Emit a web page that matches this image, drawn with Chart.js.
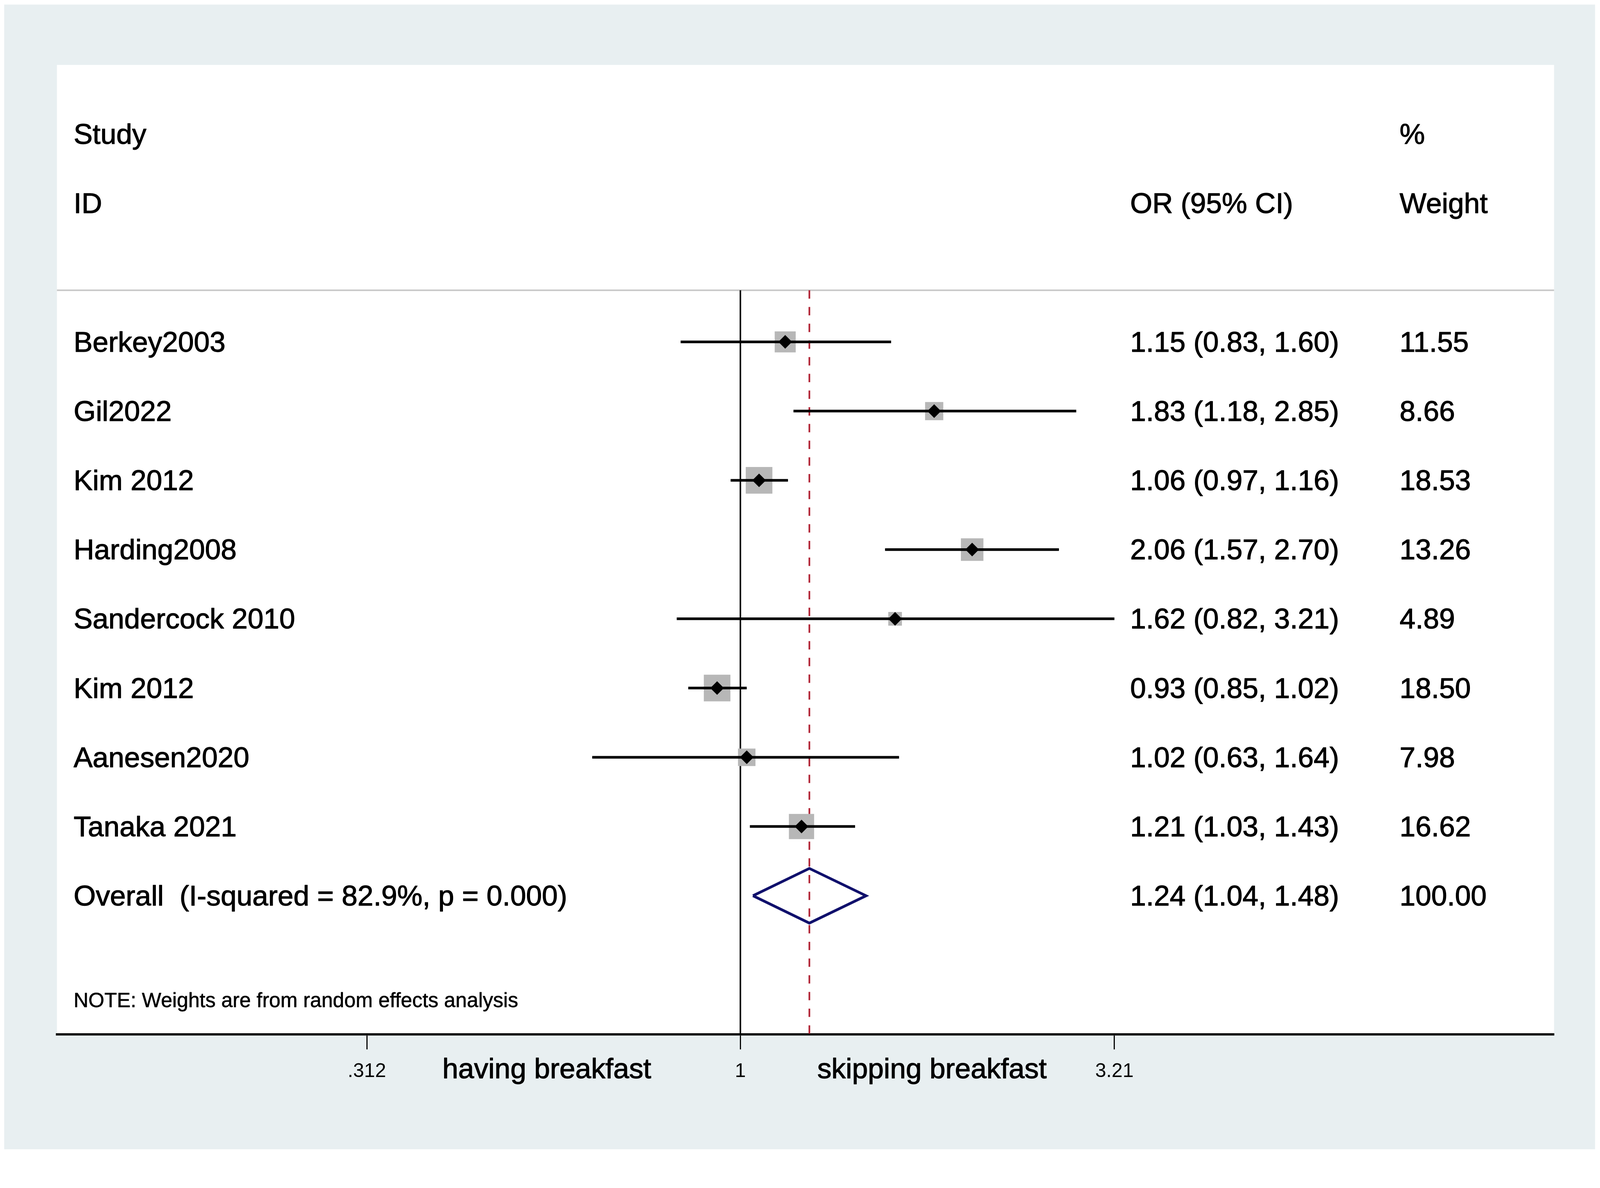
<!DOCTYPE html>
<html>
<head>
<meta charset="utf-8">
<title>Forest plot</title>
<script src="https://cdn.jsdelivr.net/npm/chart.js@4.4.1/dist/chart.umd.min.js"></script>
<style>
  html, body { margin: 0; padding: 0; background: #ffffff; overflow: hidden; }
  canvas { display: block; }
</style>
</head>
<body>
<canvas id="forest"></canvas>
<script>
// study data
const studies = ["Berkey2003", "Gil2022", "Kim 2012", "Harding2008", "Sandercock 2010", "Kim 2012", "Aanesen2020", "Tanaka 2021"];
const oddsRatio = [1.15, 1.83, 1.06, 2.06, 1.62, 0.93, 1.02, 1.21];
const lowerCI = [0.83, 1.18, 0.97, 1.57, 0.82, 0.85, 0.63, 1.03];
const upperCI = [1.60, 2.85, 1.16, 2.70, 3.21, 1.02, 1.64, 1.43];
const weights = [11.55, 8.66, 18.53, 13.26, 4.89, 18.50, 7.98, 16.62];

const overallLabel = "Overall  (I-squared = 82.9%, p = 0.000)";
const overallOR = 1.24;
const overallLower = 1.04;
const overallUpper = 1.48;
const overallWeight = 100.00;

const xTickValues = [0.312, 1, 3.21];
const xTickLabels = [".312", "1", "3.21"];
const favourLabels = ["having breakfast", "skipping breakfast"];
const noteText = "NOTE: Weights are from random effects analysis";

// rows on the y scale (Berkey = 1 ... Overall = 9)
const studyRows = studies.map((s, i) => i + 1);
const overallRow = studies.length + 1;
const headerLineRow = 0.255;
const noteRow = 10.5;

// the layout was measured on a 4216 x 3040 picture, scale it to the real viewport
const W = window.innerWidth;
const H = window.innerHeight;
const S = Math.min(W / 4216, H / 3040);
const px = v => v * S;

const FONT = '"Liberation Sans", Arial, Helvetica, sans-serif';
Chart.defaults.font.family = FONT;
Chart.defaults.color = "#000000";

const canvas = document.getElementById("forest");
canvas.width = W;
canvas.height = H;
canvas.style.width = W + "px";
canvas.style.height = H + "px";
let ctx = canvas.getContext("2d");

const datasets = [];

// grey weight boxes (area ~ weight)
datasets.push({
  data: studies.map((s, i) => ({ x: oddsRatio[i], y: studyRows[i] })),
  pointStyle: "rect",
  pointRadius: weights.map(w => px(16.3 * Math.sqrt(w) / Math.SQRT2)),
  backgroundColor: "#b7b7b7",
  borderWidth: 0,
  order: 5,
});

// confidence interval lines
studies.forEach((s, i) => {
  datasets.push({
    data: [{ x: lowerCI[i], y: studyRows[i] }, { x: upperCI[i], y: studyRows[i] }],
    showLine: true,
    borderColor: "#000000",
    borderWidth: px(7),
    pointRadius: 0,
    order: 4,
  });
});

// black point estimate markers
datasets.push({
  data: studies.map((s, i) => ({ x: oddsRatio[i], y: studyRows[i] })),
  pointStyle: "rectRot",
  pointRadius: px(18),
  backgroundColor: "#000000",
  borderWidth: 0,
  order: 1,
});

// null line at OR = 1
datasets.push({
  data: [{ x: 1, y: headerLineRow }, { x: 1, y: 11 }],
  showLine: true,
  borderColor: "#000000",
  borderWidth: px(4),
  pointRadius: 0,
  order: 6,
});

// dashed overall line
datasets.push({
  data: [{ x: overallOR, y: headerLineRow }, { x: overallOR, y: 11 }],
  showLine: true,
  borderColor: "#b3283a",
  borderWidth: px(4.5),
  borderDash: [px(22), px(22)],
  pointRadius: 0,
  order: 7,
});

// overall diamond
const dh = 0.395;
datasets.push({
  data: [
    { x: overallLower, y: overallRow },
    { x: overallOR, y: overallRow - dh },
    { x: overallUpper, y: overallRow },
    { x: overallOR, y: overallRow + dh },
    { x: overallLower, y: overallRow },
  ],
  showLine: true,
  borderColor: "#10106c",
  backgroundColor: "#ffffff",
  fill: false,
  borderWidth: px(7),
  borderJoinStyle: "miter",
  pointRadius: 0,
  order: 2,
});

function drawText(c, text, x, y) {
  c.strokeText(text, x, y);
  c.fillText(text, x, y);
}

const panelPlugin = {
  id: "panel",
  beforeDraw(chart) {
    const c = chart.ctx;
    const a = chart.chartArea;
    c.save();
    c.fillStyle = "#ffffff";
    c.fillRect(0, 0, chart.width, chart.height);
    c.fillStyle = "#e8eff1";
    c.fillRect(px(11), px(12), px(4192), px(3015));
    c.fillStyle = "#ffffff";
    c.fillRect(a.left, a.top, a.right - a.left, a.bottom - a.top);
    const y = chart.scales.y.getPixelForValue(headerLineRow);
    c.strokeStyle = "#c8c8c8";
    c.lineWidth = px(4);
    c.beginPath();
    c.moveTo(a.left, y);
    c.lineTo(a.right, y);
    c.stroke();
    c.restore();
  },
  afterDraw(chart) {
    const c = chart.ctx;
    const a = chart.chartArea;
    const ys = chart.scales.y;
    const xs = chart.scales.x;
    const col1 = px(194);
    const col2 = px(2978);
    const col3 = px(3688);
    const dy = px(5);
    const big = px(75) + "px " + FONT;
    const row = r => ys.getPixelForValue(r) + dy;
    c.save();
    c.fillStyle = "#000000";
    c.strokeStyle = "#000000";
    c.lineWidth = px(1.4);
    c.lineJoin = "round";
    c.textBaseline = "middle";
    c.textAlign = "left";
    c.font = big;
    drawText(c, "Study", col1, row(-2));
    drawText(c, "ID", col1, row(-1));
    drawText(c, "%", col3, row(-2));
    drawText(c, "Weight", col3, row(-1));
    drawText(c, "OR (95% CI)", col2, row(-1));
    studies.forEach((s, i) => {
      const y = row(studyRows[i]);
      drawText(c, s, col1, y);
      drawText(c, oddsRatio[i].toFixed(2) + " (" + lowerCI[i].toFixed(2) + ", " + upperCI[i].toFixed(2) + ")", col2, y);
      drawText(c, weights[i].toFixed(2), col3, y);
    });
    const yo = row(overallRow);
    drawText(c, overallLabel, col1, yo);
    drawText(c, overallOR.toFixed(2) + " (" + overallLower.toFixed(2) + ", " + overallUpper.toFixed(2) + ")", col2, yo);
    drawText(c, overallWeight.toFixed(2), col3, yo);
    c.font = px(54) + "px " + FONT;
    c.lineWidth = px(0.8);
    drawText(c, noteText, col1, row(noteRow));

    // favour labels between the ticks
    c.font = big;
    c.lineWidth = px(1.4);
    c.textAlign = "center";
    c.textBaseline = "alphabetic";
    const yb = a.bottom + px(116);
    drawText(c, favourLabels[0], xs.getPixelForValue(Math.sqrt(xTickValues[0] * xTickValues[1])) - px(18), yb);
    drawText(c, favourLabels[1], xs.getPixelForValue(Math.sqrt(xTickValues[1] * xTickValues[2])) + px(12), yb);
    c.restore();
  },
};

let myChart = new Chart(ctx, {
  type: "scatter",
  data: { datasets: datasets },
  plugins: [panelPlugin],
  options: {
    responsive: false,
    animation: false,
    layout: { padding: { left: px(150), right: W - px(4095), top: px(171), bottom: 0 } },
    plugins: { legend: { display: false }, tooltip: { enabled: false } },
    elements: { line: { tension: 0, borderCapStyle: "butt" } },
    scales: {
      x: {
        type: "logarithmic",
        min: 0.1187,
        max: 12.645,
        bounds: "data",
        afterBuildTicks(scale) {
          scale.ticks = xTickValues.map(v => ({ value: v }));
        },
        afterFit(scale) {
          scale.height = H - px(2724);
        },
        border: { display: true, color: "#000000", width: px(6) },
        grid: {
          drawOnChartArea: false,
          drawTicks: true,
          tickLength: px(40),
          tickColor: "#000000",
          tickWidth: px(3),
        },
        ticks: {
          autoSkip: false,
          maxRotation: 0,
          padding: px(27),
          color: "#000000",
          font: { size: px(52), family: FONT },
          callback: (value, index) => xTickLabels[index],
        },
      },
      y: {
        type: "linear",
        display: false,
        reverse: true,
        min: -3,
        max: 11,
        bounds: "data",
      },
    },
  },
});
</script>
</body>
</html>
